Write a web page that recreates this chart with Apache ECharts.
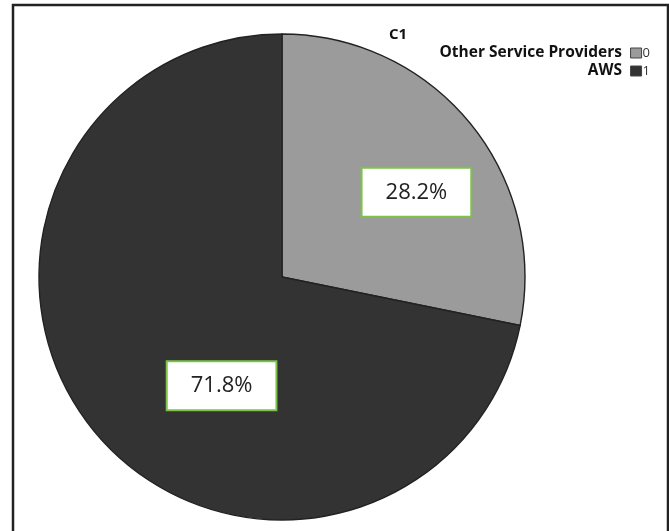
<!DOCTYPE html>
<html><head><meta charset="utf-8">
<script src="https://cdn.jsdelivr.net/npm/echarts@6/dist/echarts.min.js"></script>
<style>html,body{margin:0;padding:0;background:#fff}#c{width:669px;height:531px}</style>
</head><body><div id="c"></div>
<script>
const title = 'C1';
const categories = ['Other Service Providers', 'AWS'];
const codes = ['0', '1'];
const values = [28.2, 71.8];
const colors = ['#9b9b9b', '#333333'];
const labelShift = [[38, -6], [36, 30]];

const chart = echarts.init(document.getElementById('c'), null, {renderer: 'canvas'});
const data = categories.map((n, i) => ({name: n, value: values[i], itemStyle: {color: colors[i]}}));
chart.setOption({
  animation: false,
  title: {text: title, left: 393, top: 22, textAlign: 'center',
    textStyle: {fontFamily: 'Open Sans', fontWeight: 'bold', fontSize: 15, color: '#111'}},
  legend: [{
    data: categories, orient: 'vertical', right: 14, top: 40, itemGap: 2,
    itemWidth: 11, itemHeight: 10, icon: 'rect', align: 'left',
    itemStyle: {borderColor: '#444', borderWidth: 1},
    formatter: n => codes[categories.indexOf(n)],
    textStyle: {fontFamily: 'Open Sans', fontSize: 13, lineHeight: 16, color: '#333', padding: [0,0,0,-4]}
  }, {
    data: categories, orient: 'vertical', right: 37, top: 40, itemGap: 2,
    itemWidth: 0, itemHeight: 10, icon: 'none', align: 'right',
    textStyle: {fontFamily: 'Open Sans', fontWeight: 'bold', fontSize: 15.5, lineHeight: 16, color: '#111'}
  }],
  graphic: [{type: 'rect', shape: {x: 13, y: 5, width: 655, height: 560},
    style: {fill: 'none', stroke: '#222', lineWidth: 2.5}, silent: true}],
  series: [{
    type: 'pie', center: [282, 277], radius: [0, 243], startAngle: 90, clockwise: true,
    data: data,
    itemStyle: {borderColor: '#222', borderWidth: 1.4},
    label: {show: true, position: 'inside',
      formatter: p => p.value.toFixed(1) + '%',
      fontFamily: 'Open Sans', fontSize: 22, lineHeight: 27, color: '#222',
      backgroundColor: '#fff', borderColor: '#7dc24b', borderWidth: 2,
      padding: [10, 23, 10, 23]},
    labelLayout: p => ({dx: labelShift[p.dataIndex][0], dy: labelShift[p.dataIndex][1]}),
    emphasis: {disabled: true}
  }]
});
</script></body></html>
